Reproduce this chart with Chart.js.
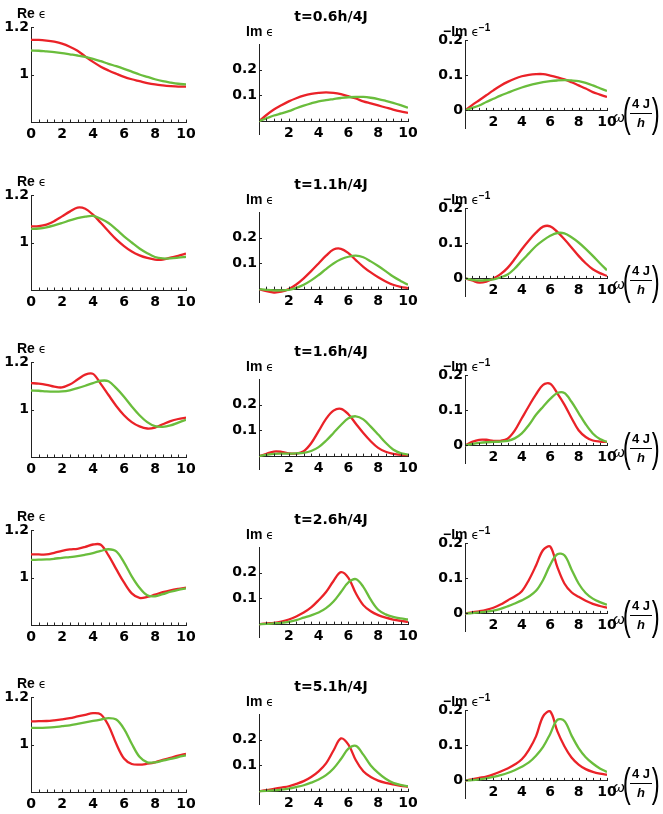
<!DOCTYPE html>
<html>
<head>
<meta charset="utf-8">
<script src="https://cdn.jsdelivr.net/npm/chart.js@4.4.0/dist/chart.umd.min.js"></script>
<style>
  body { margin: 0; background: #fff; }
  #fig { position: relative; width: 663px; height: 814px; overflow: hidden; background: #fff; }
  #fig canvas { position: absolute; }
  .lbl { position: absolute; white-space: nowrap; color: #000; line-height: 16px; font-family: "Liberation Sans", Arial, sans-serif; font-weight: bold; font-size: 14px; }
  .eps { font-family: "DejaVu Sans", sans-serif; font-weight: normal; font-size: 12px; }
  .eps sup { font-size: 10px; font-weight: bold; font-family: "Liberation Sans", sans-serif; }
  .ttl { font-family: "DejaVu Sans", sans-serif; font-size: 14px; text-align: center; width: 90px; }
  .om { position: absolute; display: flex; align-items: center; white-space: nowrap; font-family: "Liberation Sans", sans-serif; color: #000; }
  .om .w { font-style: italic; font-size: 15px; margin-top: 6px; margin-left: 2px; margin-right: -2px; }
  .om .p { font-size: 40px; font-weight: normal; line-height: 42px; display: inline-block; transform: scaleX(0.6); margin: 0 -3px; }
  .om .fr { display: flex; flex-direction: column; align-items: center; font-weight: bold; font-size: 13px; line-height: 14px; }
  .om .fr .n { border-bottom: 1.5px solid #000; padding: 0 2px 2px 2px; white-space: nowrap; }
  .om .fr .d { font-style: italic; padding-top: 2px; }
</style>
</head>
<body>
<div id="fig"></div>
<script>
// frequency grid, omega in units of 4J/h
const omega = [0, 0.5, 1, 1.5, 2, 2.5, 3, 3.5, 4, 4.5, 5, 5.5, 6, 6.5, 7, 7.5, 8, 8.5, 9, 9.5, 10];
const times = ['0.6', '1.1', '1.6', '2.6', '5.1'];

// Re eps
const reRed06   = [1.146, 1.146, 1.143, 1.138, 1.130, 1.117, 1.100, 1.076, 1.053, 1.033, 1.017, 1.003, 0.990, 0.980, 0.972, 0.964, 0.958, 0.954, 0.951, 0.949, 0.949];
const reGreen06 = [1.101, 1.100, 1.097, 1.094, 1.090, 1.085, 1.080, 1.074, 1.066, 1.056, 1.045, 1.035, 1.024, 1.012, 1.000, 0.990, 0.980, 0.972, 0.966, 0.961, 0.958];
const reRed11   = [1.068, 1.069, 1.075, 1.090, 1.110, 1.130, 1.147, 1.142, 1.117, 1.083, 1.047, 1.013, 0.985, 0.962, 0.946, 0.935, 0.928, 0.928, 0.936, 0.944, 0.953];
const reGreen11 = [1.057, 1.059, 1.064, 1.072, 1.082, 1.093, 1.103, 1.109, 1.112, 1.100, 1.082, 1.055, 1.026, 1.000, 0.975, 0.955, 0.939, 0.933, 0.933, 0.936, 0.940];
const reRed16   = [1.111, 1.109, 1.104, 1.096, 1.093, 1.105, 1.126, 1.147, 1.150, 1.108, 1.061, 1.015, 0.976, 0.947, 0.929, 0.920, 0.924, 0.938, 0.951, 0.960, 0.966];
const reGreen16 = [1.080, 1.079, 1.076, 1.075, 1.076, 1.081, 1.090, 1.100, 1.111, 1.121, 1.119, 1.090, 1.054, 1.013, 0.976, 0.947, 0.930, 0.927, 0.933, 0.945, 0.957];
const reRed26   = [1.097, 1.097, 1.097, 1.104, 1.112, 1.118, 1.121, 1.129, 1.139, 1.138, 1.093, 1.035, 0.979, 0.933, 0.914, 0.918, 0.928, 0.938, 0.946, 0.952, 0.957];
const reGreen26 = [1.074, 1.075, 1.076, 1.079, 1.083, 1.086, 1.090, 1.096, 1.103, 1.112, 1.119, 1.110, 1.064, 1.005, 0.957, 0.925, 0.921, 0.930, 0.940, 0.948, 0.954];
const reRed51   = [1.097, 1.098, 1.099, 1.102, 1.106, 1.111, 1.118, 1.125, 1.132, 1.127, 1.080, 1.003, 0.941, 0.918, 0.915, 0.919, 0.925, 0.935, 0.944, 0.953, 0.961];
const reGreen51 = [1.070, 1.070, 1.071, 1.073, 1.077, 1.081, 1.087, 1.093, 1.099, 1.105, 1.111, 1.105, 1.066, 1.003, 0.948, 0.925, 0.925, 0.932, 0.939, 0.947, 0.954];

// Im eps
const imRed06   = [0, 0.024, 0.045, 0.062, 0.077, 0.089, 0.099, 0.106, 0.110, 0.112, 0.110, 0.105, 0.097, 0.088, 0.077, 0.069, 0.061, 0.053, 0.045, 0.038, 0.032];
const imGreen06 = [0, 0.011, 0.022, 0.030, 0.039, 0.050, 0.060, 0.069, 0.077, 0.082, 0.086, 0.090, 0.093, 0.094, 0.094, 0.091, 0.086, 0.079, 0.071, 0.062, 0.052];
const imRed11   = [0, -0.008, -0.013, -0.010, 0, 0.018, 0.042, 0.070, 0.100, 0.130, 0.154, 0.157, 0.140, 0.113, 0.087, 0.065, 0.046, 0.030, 0.017, 0.009, 0.004];
const imGreen11 = [0, -0.003, -0.005, -0.005, -0.003, 0.005, 0.017, 0.034, 0.055, 0.078, 0.100, 0.116, 0.126, 0.130, 0.124, 0.108, 0.090, 0.070, 0.049, 0.032, 0.017];
const imRed16   = [0, 0.009, 0.018, 0.017, 0.011, 0.010, 0.019, 0.050, 0.097, 0.145, 0.177, 0.184, 0.163, 0.126, 0.090, 0.058, 0.032, 0.017, 0.009, 0.005, 0.004];
const imGreen16 = [0, 0.005, 0.009, 0.010, 0.010, 0.011, 0.013, 0.020, 0.035, 0.060, 0.090, 0.121, 0.147, 0.155, 0.143, 0.115, 0.084, 0.052, 0.026, 0.012, 0.006];
const imRed26   = [0, 0.003, 0.005, 0.010, 0.018, 0.030, 0.045, 0.065, 0.093, 0.125, 0.168, 0.202, 0.180, 0.120, 0.074, 0.050, 0.035, 0.025, 0.018, 0.013, 0.009];
const imGreen26 = [0, 0.001, 0.003, 0.005, 0.009, 0.016, 0.025, 0.034, 0.045, 0.062, 0.088, 0.125, 0.162, 0.175, 0.145, 0.095, 0.056, 0.038, 0.028, 0.022, 0.018];
const imRed51   = [0, 0.004, 0.009, 0.014, 0.019, 0.028, 0.039, 0.055, 0.077, 0.108, 0.158, 0.205, 0.181, 0.120, 0.077, 0.055, 0.041, 0.032, 0.026, 0.021, 0.017];
const imGreen51 = [0, 0.001, 0.003, 0.006, 0.010, 0.016, 0.023, 0.033, 0.045, 0.062, 0.088, 0.125, 0.165, 0.176, 0.142, 0.100, 0.071, 0.048, 0.032, 0.024, 0.019];

// -Im 1/eps
const lossRed06   = [0, 0.015, 0.029, 0.043, 0.057, 0.070, 0.081, 0.090, 0.097, 0.101, 0.103, 0.103, 0.099, 0.094, 0.088, 0.080, 0.071, 0.062, 0.052, 0.045, 0.038];
const lossGreen06 = [0, 0.007, 0.014, 0.024, 0.033, 0.042, 0.050, 0.058, 0.065, 0.071, 0.076, 0.080, 0.083, 0.085, 0.086, 0.085, 0.083, 0.078, 0.071, 0.063, 0.055];
const lossRed11   = [0, -0.006, -0.012, -0.009, 0, 0.012, 0.030, 0.055, 0.083, 0.108, 0.130, 0.147, 0.148, 0.132, 0.111, 0.088, 0.064, 0.043, 0.026, 0.015, 0.007];
const lossGreen11 = [0, -0.004, -0.006, -0.005, -0.003, 0.003, 0.011, 0.028, 0.050, 0.071, 0.092, 0.108, 0.121, 0.129, 0.128, 0.117, 0.102, 0.084, 0.064, 0.043, 0.023];
const lossRed16   = [0, 0.010, 0.016, 0.016, 0.013, 0.013, 0.019, 0.042, 0.077, 0.112, 0.145, 0.172, 0.175, 0.148, 0.116, 0.078, 0.043, 0.024, 0.014, 0.011, 0.010];
const lossGreen16 = [0, 0.004, 0.007, 0.009, 0.010, 0.011, 0.013, 0.020, 0.034, 0.058, 0.087, 0.110, 0.132, 0.149, 0.149, 0.124, 0.092, 0.060, 0.034, 0.018, 0.010];
const lossRed26   = [0, 0.003, 0.006, 0.010, 0.016, 0.025, 0.037, 0.048, 0.063, 0.095, 0.136, 0.180, 0.190, 0.132, 0.085, 0.060, 0.047, 0.036, 0.027, 0.021, 0.016];
const lossGreen26 = [0, 0.001, 0.003, 0.005, 0.008, 0.013, 0.020, 0.028, 0.037, 0.048, 0.064, 0.095, 0.138, 0.168, 0.165, 0.125, 0.085, 0.058, 0.042, 0.032, 0.025];
const lossRed51   = [0, 0.003, 0.007, 0.011, 0.017, 0.025, 0.034, 0.045, 0.060, 0.087, 0.125, 0.182, 0.196, 0.140, 0.097, 0.065, 0.045, 0.032, 0.024, 0.019, 0.016];
const lossGreen51 = [0, 0.001, 0.003, 0.006, 0.010, 0.015, 0.021, 0.029, 0.039, 0.051, 0.070, 0.095, 0.132, 0.172, 0.169, 0.128, 0.092, 0.066, 0.048, 0.034, 0.024];

const RED = '#ea2228';
const GREEN = '#6abd3c';
const ROW_STEP = 167.5;
const TICK_FONT = { family: 'DejaVu Sans', weight: 'bold', size: 14 };

// chart-area boxes of the three columns (first row)
const cols = [
  { left: 31, right: 186, top: 27, height: 94.7, min: 0.8, max: 1.2, yTicks: [1, 1.2], zero: false,
    red: [reRed06, reRed11, reRed16, reRed26, reRed51], green: [reGreen06, reGreen11, reGreen16, reGreen26, reGreen51] },
  { left: 259, right: 408, top: 44, height: 90.4, min: -0.05, max: 0.3, yTicks: [0.1, 0.2], zero: true,
    red: [imRed06, imRed11, imRed16, imRed26, imRed51], green: [imGreen06, imGreen11, imGreen16, imGreen26, imGreen51] },
  { left: 465, right: 607, top: 40, height: 87.5, min: -0.05, max: 0.2, yTicks: [0, 0.1, 0.2], zero: true,
    red: [lossRed06, lossRed11, lossRed16, lossRed26, lossRed51], green: [lossGreen06, lossGreen11, lossGreen16, lossGreen26, lossGreen51] }
];

const fig = document.getElementById('fig');

// small tick marks pointing into the plot
const minorX = [];
for (let v = 0; v <= 10; v += 0.5) minorX.push(v);
const innerTicks = {
  id: 'innerTicks',
  afterDraw(chart, args, opts) {
    const { ctx, chartArea } = chart;
    const x = chart.scales.x, y = chart.scales.y;
    const y0 = opts.zero ? y.getPixelForValue(0) : chartArea.bottom;
    ctx.save();
    ctx.strokeStyle = '#222';
    ctx.lineWidth = 1;
    ctx.beginPath();
    minorX.forEach(v => {
      const px = Math.round(x.getPixelForValue(v)) + 0.5;
      ctx.moveTo(px, y0);
      ctx.lineTo(px, y0 - 2.5);
    });
    y.ticks.forEach(t => {
      const py = Math.round(y.getPixelForValue(t.value)) + 0.5;
      ctx.moveTo(chartArea.left, py);
      ctx.lineTo(chartArea.left + 3, py);
    });
    ctx.stroke();
    ctx.restore();
  }
};

function pts(arr) {
  return arr.map((v, i) => ({ x: omega[i], y: v }));
}

function line(arr, color) {
  return { data: pts(arr), borderColor: color, borderWidth: 2.3, pointRadius: 0, fill: false, tension: 0.35 };
}

function makePanel(col, row) {
  const PL = 45, PT = 12, PR = 16, PB = 28;
  const top = Math.round(col.top + row * ROW_STEP);
  const cv = document.createElement('canvas');
  cv.width = (col.right - col.left) + PL + PR;
  cv.height = Math.round(col.height) + PT + PB;
  cv.style.left = (col.left - PL) + 'px';
  cv.style.top = (top - PT) + 'px';
  fig.appendChild(cv);

  new Chart(cv, {
    type: 'line',
    data: { datasets: [line(col.green[row], GREEN), line(col.red[row], RED)] },
    options: {
      responsive: false,
      animation: false,
      devicePixelRatio: 1,
      layout: { padding: { left: 0, top: PT, right: PR, bottom: col.zero ? PB : 0 } },
      plugins: { legend: { display: false }, tooltip: { enabled: false }, innerTicks: { zero: col.zero } },
      scales: {
        x: {
          type: 'linear', min: 0, max: 10,
          position: col.zero ? { y: 0 } : 'bottom',
          afterFit: s => { if (!col.zero) s.height = PB; },
          ticks: {
            stepSize: 2, autoSkip: false, maxRotation: 0, padding: 4, color: '#000', font: TICK_FONT,
            callback: v => (col.zero && v === 0) ? '' : String(v)
          },
          grid: { drawOnChartArea: false, drawTicks: false },
          border: { color: '#222', width: 1 }
        },
        y: {
          type: 'linear', min: col.min, max: col.max,
          afterFit: s => { s.width = PL; },
          afterBuildTicks: s => { s.ticks = col.yTicks.map(v => ({ value: v })); },
          ticks: { padding: 2, color: '#000', font: TICK_FONT, callback: v => String(v) },
          grid: { drawOnChartArea: false, drawTicks: false },
          border: { color: '#222', width: 1 }
        }
      }
    },
    plugins: [innerTicks]
  });
}

function addLabel(html, cls, left, top) {
  const d = document.createElement('div');
  d.className = cls;
  d.style.left = left + 'px';
  d.style.top = top + 'px';
  d.innerHTML = html;
  fig.appendChild(d);
}

for (let r = 0; r < times.length; r++) {
  cols.forEach(c => makePanel(c, r));
  const dy = r * ROW_STEP;
  addLabel('Re <span class="eps">ϵ</span>', 'lbl', 17, 5 + dy);
  addLabel('Im <span class="eps">ϵ</span>', 'lbl', 246, 23 + dy);
  addLabel('−Im <span class="eps">ϵ<sup>−1</sup></span>', 'lbl', 443, 20 + dy);
  addLabel('t=' + times[r] + 'h/4J', 'lbl ttl', 286, 8 + dy);
  addLabel('<span class="w">ω</span><span class="p">(</span><span class="fr"><span class="n">4 J</span><span class="d">h</span></span><span class="p">)</span>',
    'om', 611, 92 + dy);
}
</script>
</body>
</html>
